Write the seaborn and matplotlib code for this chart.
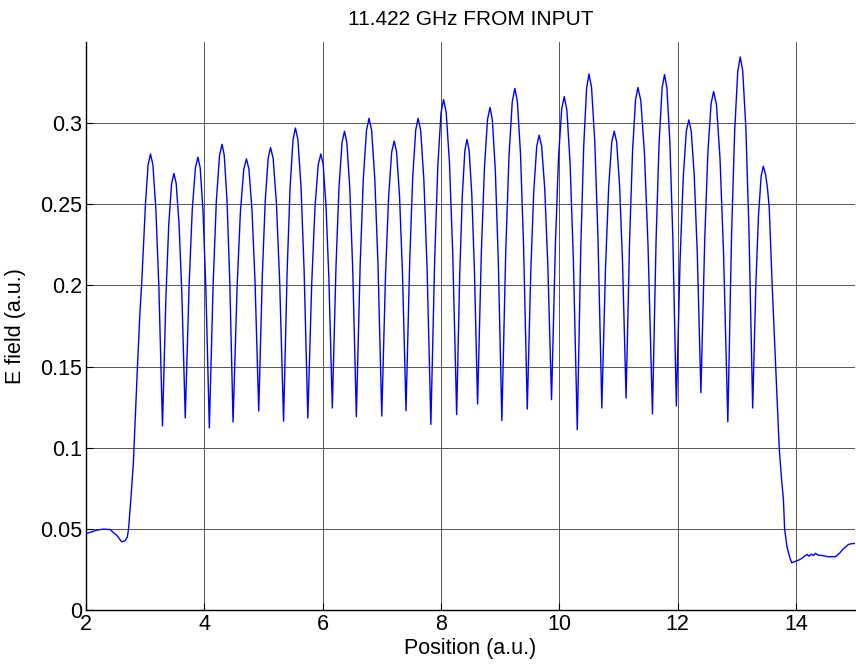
import matplotlib
matplotlib.use("Agg")
import matplotlib.pyplot as plt
import seaborn as sns
import pandas as pd

# ---- data (position, E field) ----
seg_a = [(2.00, 0.0472), (2.10, 0.0482), (2.18, 0.0492), (2.29, 0.0498), (2.41, 0.0496),
         (2.46, 0.0478), (2.52, 0.0461), (2.58, 0.0431), (2.605, 0.0420), (2.66, 0.0426),
         (2.70, 0.0451), (2.72, 0.0503), (2.757, 0.0677), (2.80, 0.090), (2.835, 0.120),
         (2.87, 0.150), (2.91, 0.182), (2.944, 0.203), (3.005, 0.250), (3.05, 0.2743), (3.09, 0.281),
         (3.131, 0.2743), (3.181, 0.2471), (3.232, 0.1989), (3.293, 0.1134),
         (3.351, 0.1928), (3.399, 0.2375), (3.447, 0.2628), (3.486, 0.269), (3.524, 0.2630),
         (3.572, 0.2385), (3.620, 0.1952), (3.678, 0.1183),
         (3.743, 0.2003), (3.796, 0.2465), (3.850, 0.2726), (3.893, 0.279), (3.931, 0.2723),
         (3.979, 0.2452), (4.027, 0.1973), (4.085, 0.1122)]

seg_b = [(4.150, 0.2013), (4.203, 0.2516), (4.257, 0.2800), (4.300, 0.287), (4.337, 0.2802),
         (4.384, 0.2524), (4.430, 0.2032), (4.486, 0.1159),
         (4.554, 0.1986), (4.610, 0.2452), (4.667, 0.2715), (4.712, 0.278), (4.754, 0.2718),
         (4.806, 0.2465), (4.858, 0.2019), (4.920, 0.1226),
         (4.980, 0.2054), (5.030, 0.2521), (5.080, 0.2785), (5.120, 0.285), (5.164, 0.2783),
         (5.219, 0.2508), (5.274, 0.2023), (5.340, 0.1163),
         (5.400, 0.2085), (5.450, 0.2604), (5.500, 0.2898), (5.540, 0.297), (5.582, 0.2899),
         (5.635, 0.2608), (5.687, 0.2094), (5.750, 0.1183),
         (5.816, 0.2013), (5.871, 0.2481), (5.926, 0.2745), (5.970, 0.281), (6.009, 0.2747),
         (6.057, 0.2493), (6.106, 0.2043), (6.164, 0.1245)]

seg_c = [(6.226, 0.2115), (6.277, 0.2605), (6.329, 0.2882), (6.370, 0.295), (6.410, 0.2880),
         (6.460, 0.2594), (6.510, 0.2088), (6.570, 0.1191),
         (6.635, 0.2129), (6.688, 0.2658), (6.742, 0.2956), (6.785, 0.303), (6.828, 0.2957),
         (6.882, 0.2658), (6.936, 0.2131), (7.000, 0.1195),
         (7.063, 0.2059), (7.116, 0.2547), (7.168, 0.2822), (7.210, 0.289), (7.250, 0.2824),
         (7.300, 0.2553), (7.350, 0.2076), (7.410, 0.1228),
         (7.472, 0.2147), (7.523, 0.2665), (7.574, 0.2958), (7.615, 0.303), (7.658, 0.2955),
         (7.712, 0.2648), (7.766, 0.2106), (7.830, 0.1144),
         (7.895, 0.2165), (7.948, 0.2740), (8.002, 0.3065), (8.045, 0.3145), (8.089, 0.3067),
         (8.145, 0.2752), (8.200, 0.2194), (8.266, 0.1204)]

seg_d = [(8.318, 0.2069), (8.362, 0.2557), (8.405, 0.2832), (8.440, 0.290), (8.476, 0.2835),
         (8.521, 0.2570), (8.566, 0.2101), (8.620, 0.1269),
         (8.683, 0.2201), (8.736, 0.2727), (8.788, 0.3024), (8.830, 0.3097), (8.870, 0.3020),
         (8.920, 0.2706), (8.970, 0.2151), (9.030, 0.1167),
         (9.096, 0.2211), (9.151, 0.2799), (9.206, 0.3132), (9.250, 0.3214), (9.292, 0.3135),
         (9.345, 0.2814), (9.397, 0.2246), (9.460, 0.1238),
         (9.520, 0.2099), (9.570, 0.2584), (9.620, 0.2858), (9.660, 0.2926), (9.702, 0.2861),
         (9.755, 0.2596), (9.807, 0.2127), (9.870, 0.1296),
         (9.935, 0.2249), (9.988, 0.2786), (10.042, 0.3089), (10.085, 0.3164), (10.129, 0.3082),
         (10.184, 0.2748), (10.239, 0.2158), (10.305, 0.1111)]

seg_e = [(10.364, 0.2229), (10.414, 0.2859), (10.463, 0.3215), (10.503, 0.3303), (10.546, 0.3221),
         (10.601, 0.2886), (10.655, 0.2295), (10.720, 0.1245),
         (10.783, 0.2115), (10.836, 0.2606), (10.888, 0.2883), (10.930, 0.2951), (10.970, 0.2885),
         (11.020, 0.2618), (11.070, 0.2145), (11.130, 0.1306),
         (11.190, 0.2282), (11.240, 0.2832), (11.290, 0.3143), (11.330, 0.322), (11.379, 0.3140),
         (11.441, 0.2813), (11.502, 0.2234), (11.576, 0.1208),
         (11.637, 0.2275), (11.688, 0.2876), (11.739, 0.3216), (11.780, 0.330), (11.820, 0.3218),
         (11.870, 0.2886), (11.920, 0.2299), (11.980, 0.1257),
         (12.043, 0.2156), (12.096, 0.2663), (12.148, 0.2949), (12.190, 0.302), (12.231, 0.2953),
         (12.282, 0.2680), (12.334, 0.2196), (12.395, 0.1339)]

seg_f = [(12.460, 0.2286), (12.513, 0.2819), (12.567, 0.3121), (12.610, 0.3195), (12.658, 0.3114),
         (12.718, 0.2783), (12.778, 0.2197), (12.850, 0.1159),
         (12.913, 0.2306), (12.966, 0.2953), (13.018, 0.3318), (13.060, 0.3408), (13.102, 0.3321),
         (13.155, 0.2970), (13.207, 0.2348), (13.270, 0.1245),
         (13.324, 0.2005), (13.369, 0.2433), (13.414, 0.2675), (13.450, 0.2735), (13.49, 0.268),
         (13.52, 0.260), (13.55, 0.248), (13.60, 0.200), (13.66, 0.150), (13.72, 0.099),
         (13.76, 0.080), (13.79, 0.068), (13.81, 0.050), (13.85, 0.039), (13.90, 0.032),
         (13.93, 0.0291), (13.97, 0.0296), (14.05, 0.0308), (14.10, 0.0318), (14.15, 0.0333),
         (14.19, 0.0343), (14.22, 0.0332), (14.26, 0.0344), (14.30, 0.0336), (14.33, 0.0349),
         (14.38, 0.0338), (14.44, 0.0336), (14.50, 0.0332), (14.55, 0.0328), (14.62, 0.0329),
         (14.67, 0.0328), (14.70, 0.0338), (14.74, 0.0350), (14.78, 0.0369), (14.84, 0.0388),
         (14.89, 0.0404), (14.95, 0.0409), (15.00, 0.0410)]

x_ticks = [2, 4, 6, 8, 10, 12, 14]
x_tick_labels = ["2", "4", "6", "8", "10", "12", "14"]
y_ticks = [0, 0.05, 0.1, 0.15, 0.2, 0.25, 0.3]
y_tick_labels = ["0", "0.05", "0.1", "0.15", "0.2", "0.25", "0.3"]
title = "11.422 GHz FROM INPUT"
x_label = "Position (a.u.)"
y_label = "E field (a.u.)"

points = seg_a + seg_b + seg_c + seg_d + seg_e + seg_f
df = pd.DataFrame(points, columns=["pos", "E"])

sns.set_style("white")
plt.rcParams["font.family"] = ["Liberation Sans", "DejaVu Sans"]
plt.rcParams["text.color"] = "black"
plt.rcParams["axes.labelcolor"] = "black"

W, H = 856, 665
fig = plt.figure(figsize=(W / 100, H / 100), dpi=100)
ax = fig.add_axes([86 / W, 55 / H, 769 / W, 568 / H])

sns.lineplot(data=df, x="pos", y="E", sort=False, estimator=None,
             color="#0000ff", linewidth=1.0, ax=ax, zorder=3)

ax.set_xlim(2, 15)
ax.set_ylim(0, 0.35)
ax.set_xticks(x_ticks)
ax.set_xticklabels(x_tick_labels)
ax.set_yticks(y_ticks)
ax.set_yticklabels(y_tick_labels)
ax.grid(True, color="#555555", linewidth=0.7)
ax.set_axisbelow(True)
for s in ["top", "right"]:
    ax.spines[s].set_visible(False)
for s in ["left", "bottom"]:
    ax.spines[s].set_color("black")
    ax.spines[s].set_linewidth(1.0)
ax.tick_params(direction="in", length=5, width=0.8, labelsize=15.5, pad=3,
               colors="black", left=True, bottom=True)
ax.set_xlabel(x_label, fontsize=15.5, labelpad=2, color="black")
ax.set_ylabel(y_label, fontsize=15.5, labelpad=10, color="black")
ax.set_title(title, fontsize=15, pad=12, color="black")

fig.savefig("out.png", dpi=100)
